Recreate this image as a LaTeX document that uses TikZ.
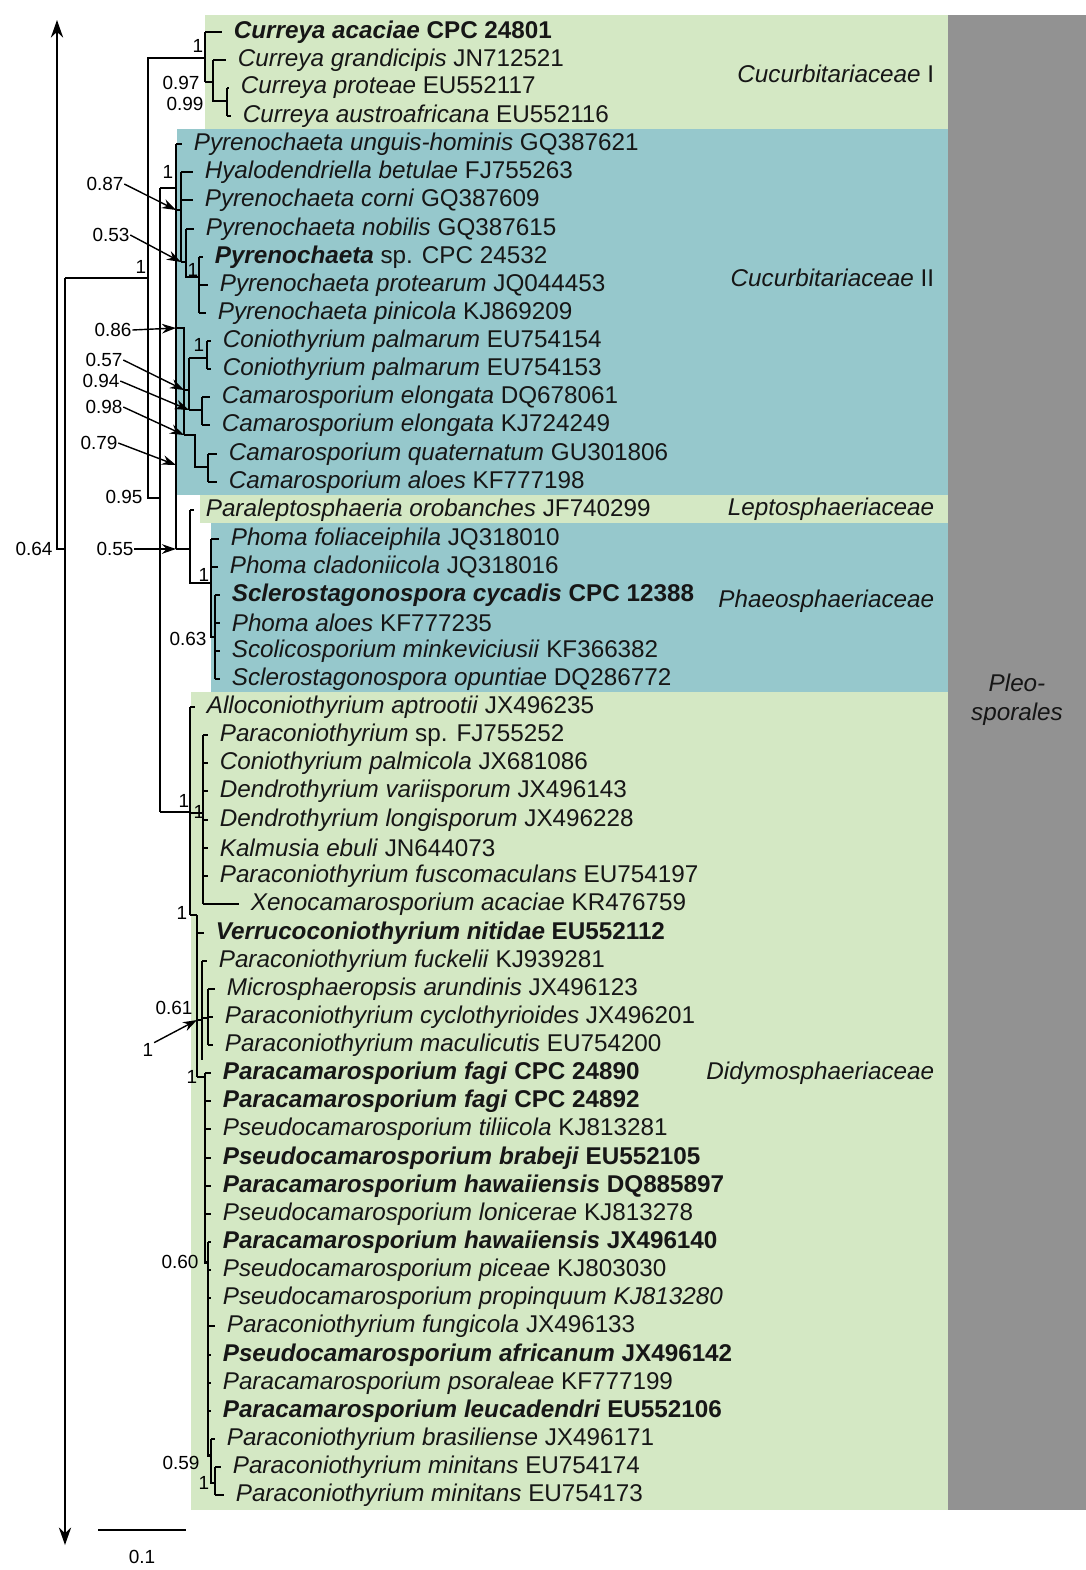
\documentclass[tikz,border=0pt]{standalone}
\usepackage{fontspec}
\setmainfont{Liberation Sans}
\usetikzlibrary{arrows.meta}

\definecolor{cladegreen}{RGB}{212,232,196}
\definecolor{cladeteal}{RGB}{150,200,204}
\definecolor{ordergrey}{RGB}{146,146,146}
\definecolor{inktext}{RGB}{22,22,22}

\newcommand{\tipsize}{\fontsize{13.8}{15.5}\selectfont}
\newcommand{\supsize}{\fontsize{10.8}{12.5}\selectfont}
\newcommand{\taxon}[2]{\textit{#1} #2}
\newcommand{\taxonb}[2]{\textbf{\textit{#1} #2}}

\begin{document}
\begin{tikzpicture}[
  x=0.02cm, y=-0.02cm,
  line width=0.95pt,
  tip/.style={anchor=west, inner sep=0pt, font=\tipsize, text=inktext},
  twig/.style={shorten >=6pt},
  heavy/.style={line width=1.7pt},
  supp/.style={font=\supsize, inner sep=0pt},
  callout/.style={-{Stealth[length=8pt,width=5.5pt]}, line width=0.8pt},
  cladename/.style={anchor=east, inner sep=0pt, font=\tipsize\itshape, text=inktext}
  ]
\useasboundingbox (0,0) rectangle (1086,1570);

% clade shading
\fill[cladegreen] (205,15) rectangle (948,129);
\fill[cladeteal] (177,129) rectangle (948,495);
\fill[cladegreen] (200,495) rectangle (948,523);
\fill[cladeteal] (211,523) rectangle (948,692);
\fill[cladegreen] (191,692) rectangle (948,1510);
\fill[ordergrey] (948,15) rectangle (1086,1510);

% clade names
\node[cladename] (cucI) at (935,74) {Cucurbitariaceae \upshape I};
\node[cladename] (cucII) at (935,278) {Cucurbitariaceae \upshape II};
\node[cladename] (lepto) at (935,509) {Leptosphaeriaceae};
\node[cladename] (phaeo) at (935,601) {Phaeosphaeriaceae};
\node[cladename] (didymo) at (935,1073) {Didymosphaeriaceae};
\node[font=\tipsize\itshape, text=inktext, align=center] (pleo) at (1017,700) {Pleo-\\[1pt]sporales};

% tips
\node[tip] (cacaciae) at (233,32) {\taxonb{Curreya acaciae}{CPC 24801}};
\node[tip] (cgrandi) at (237,60) {\taxon{Curreya grandicipis}{JN712521}};
\node[tip] (cproteae) at (240,88) {\taxon{Curreya proteae}{EU552117}};
\node[tip] (caustro) at (242,116) {\taxon{Curreya austroafricana}{EU552116}};
\node[tip] (punguis) at (193,144) {\taxon{Pyrenochaeta unguis-hominis}{GQ387621}};
\node[tip] (hbetulae) at (204,172) {\taxon{Hyalodendriella betulae}{FJ755263}};
\node[tip] (pcorni) at (204,200) {\taxon{Pyrenochaeta corni}{GQ387609}};
\node[tip] (pnobilis) at (205,229) {\taxon{Pyrenochaeta nobilis}{GQ387615}};
\node[tip] (psp) at (214,257) {\textbf{\textit{Pyrenochaeta}} sp. CPC 24532};
\node[tip] (pprot) at (219,285) {\taxon{Pyrenochaeta protearum}{JQ044453}};
\node[tip] (ppini) at (217,313) {\taxon{Pyrenochaeta pinicola}{KJ869209}};
\node[tip] (cpalmA) at (222,341) {\taxon{Coniothyrium palmarum}{EU754154}};
\node[tip] (cpalmB) at (222,369) {\taxon{Coniothyrium palmarum}{EU754153}};
\node[tip] (celonA) at (221,397) {\taxon{Camarosporium elongata}{DQ678061}};
\node[tip] (celonB) at (221,425) {\taxon{Camarosporium elongata}{KJ724249}};
\node[tip] (cquat) at (228,454) {\taxon{Camarosporium quaternatum}{GU301806}};
\node[tip] (caloes) at (228,482) {\taxon{Camarosporium aloes}{KF777198}};
\node[tip] (porob) at (205,510) {\taxon{Paraleptosphaeria orobanches}{JF740299}};
\node[tip] (pfolia) at (230,539) {\taxon{Phoma foliaceiphila}{JQ318010}};
\node[tip] (pclado) at (229,567) {\taxon{Phoma cladoniicola}{JQ318016}};
\node[tip] (scycad) at (231,595) {\taxonb{Sclerostagonospora cycadis}{CPC 12388}};
\node[tip] (paloes) at (231,623) {\taxon{Phoma aloes}{KF777235}};
\node[tip] (sminke) at (231,651) {\taxon{Scolicosporium minkeviciusii}{KF366382}};
\node[tip] (sopunt) at (231,679) {\taxon{Sclerostagonospora opuntiae}{DQ286772}};
\node[tip] (aaptro) at (206,707) {\taxon{Alloconiothyrium aptrootii}{JX496235}};
\node[tip] (pconsp) at (219,735) {\textit{Paraconiothyrium} sp. FJ755252};
\node[tip] (cpalmi) at (219,763) {\taxon{Coniothyrium palmicola}{JX681086}};
\node[tip] (dvarii) at (219,791) {\taxon{Dendrothyrium variisporum}{JX496143}};
\node[tip] (dlongi) at (219,820) {\taxon{Dendrothyrium longisporum}{JX496228}};
\node[tip] (kebuli) at (219,848) {\taxon{Kalmusia ebuli}{JN644073}};
\node[tip] (pfusco) at (219,876) {\taxon{Paraconiothyrium fuscomaculans}{EU754197}};
\node[tip] (xacac) at (250,904) {\taxon{Xenocamarosporium acaciae}{KR476759}};
\node[tip] (vnitid) at (215,933) {\taxonb{Verrucoconiothyrium nitidae}{EU552112}};
\node[tip] (pfuck) at (218,961) {\taxon{Paraconiothyrium fuckelii}{KJ939281}};
\node[tip] (marund) at (226,989) {\taxon{Microsphaeropsis arundinis}{JX496123}};
\node[tip] (pcyclo) at (224,1017) {\taxon{Paraconiothyrium cyclothyrioides}{JX496201}};
\node[tip] (pmacul) at (224,1045) {\taxon{Paraconiothyrium maculicutis}{EU754200}};
\node[tip] (pfagiA) at (222,1073) {\taxonb{Paracamarosporium fagi}{CPC 24890}};
\node[tip] (pfagiB) at (222,1101) {\taxonb{Paracamarosporium fagi}{CPC 24892}};
\node[tip] (ptilii) at (222,1129) {\taxon{Pseudocamarosporium tiliicola}{KJ813281}};
\node[tip] (pbrabe) at (222,1158) {\taxonb{Pseudocamarosporium brabeji}{EU552105}};
\node[tip] (phawaA) at (222,1186) {\taxonb{Paracamarosporium hawaiiensis}{DQ885897}};
\node[tip] (plonic) at (222,1214) {\taxon{Pseudocamarosporium lonicerae}{KJ813278}};
\node[tip] (phawaB) at (222,1242) {\taxonb{Paracamarosporium hawaiiensis}{JX496140}};
\node[tip] (ppicea) at (222,1270) {\taxon{Pseudocamarosporium piceae}{KJ803030}};
\node[tip] (ppropi) at (222,1298) {\textit{Pseudocamarosporium propinquum KJ813280}};
\node[tip] (pfungi) at (226,1326) {\taxon{Paraconiothyrium fungicola}{JX496133}};
\node[tip] (pafric) at (222,1355) {\taxonb{Pseudocamarosporium africanum}{JX496142}};
\node[tip] (psoral) at (222,1383) {\taxon{Paracamarosporium psoraleae}{KF777199}};
\node[tip] (pleuca) at (222,1411) {\taxonb{Paracamarosporium leucadendri}{EU552106}};
\node[tip] (pbrasi) at (226,1439) {\taxon{Paraconiothyrium brasiliense}{JX496171}};
\node[tip] (pminiA) at (232,1467) {\taxon{Paraconiothyrium minitans}{EU754174}};
\node[tip] (pminiB) at (235,1495) {\taxon{Paraconiothyrium minitans}{EU754173}};

% root and long branch
\coordinate (rtop) at (57,20);
\coordinate (rbend) at (57,549);
\coordinate (root) at (65,549);
\coordinate (rbot) at (65,1545);
\draw[{Stealth[length=10pt,width=7pt]}-] (rtop) -- (rbend) -- (root);
\draw[-{Stealth[length=10pt,width=7pt]}] (65,278) -- (rbot);
\draw (65,278) -- (148,278);

% Cucurbitariaceae I
\draw (205,58) -- (148,58) -- (148,498) -- (160,498);
\draw (205,82) -- (205,32);
\draw[twig] (205,32) -- (cacaciae.west);
\draw (205,82) -- (213,82);
\draw (213,60) -- (213,101) -- (227,101);
\draw[twig] (213,60) -- (cgrandi.west);
\draw (227,88) -- (227,116);
\draw[twig] (227,88) -- (cproteae.west);
\draw[twig] (227,116) -- (caustro.west);

% Cucurbitariaceae II
\draw (160,188) -- (160,812);
\draw (160,188) -- (176,188);
\draw (176,144) -- (176,549);
\draw[twig] (176,144) -- (punguis.west);
\coordinate (j087) at (176,210);
\draw (j087) -- (181,210);
\draw[heavy] (181,172) -- (181,262);
\draw[twig] (181,172) -- (hbetulae.west);
\draw[twig] (181,200) -- (pcorni.west);
\coordinate (j053) at (181,262);
\draw (j053) -- (186,262);
\draw (186,229) -- (186,277) -- (199,277);
\draw[twig] (186,229) -- (pnobilis.west);
\draw (199,257) -- (199,313);
\draw[twig] (199,257) -- (psp.west);
\draw[twig] (199,285) -- (pprot.west);
\draw[twig] (199,313) -- (ppini.west);
\coordinate (j086) at (176,328);
\draw (j086) -- (184,328) -- (184,435);
\coordinate (j057) at (184,390);
\draw (j057) -- (189,390);
\draw (189,358) -- (189,410);
\draw (189,358) -- (207,358);
\draw (207,341) -- (207,369);
\draw[twig] (207,341) -- (cpalmA.west);
\draw[twig] (207,369) -- (cpalmB.west);
\coordinate (j094) at (189,410);
\draw (j094) -- (202,410);
\draw (202,397) -- (202,425);
\draw[twig] (202,397) -- (celonA.west);
\draw[twig] (202,425) -- (celonB.west);
\coordinate (j098) at (184,435);
\draw (j098) -- (195,435) -- (195,467) -- (208,467);
\draw (208,454) -- (208,482);
\draw[twig] (208,454) -- (cquat.west);
\draw[twig] (208,482) -- (caloes.west);
\coordinate (j079) at (176,465);

% Leptosphaeriaceae + Phaeosphaeriaceae
\coordinate (j055) at (176,549);
\draw (j055) -- (190,549);
\draw (190,510) -- (190,583) -- (211,583);
\draw[twig] (190,510) -- (porob.west);
\draw (211,539) -- (211,637) -- (215,637);
\draw[twig] (211,539) -- (pfolia.west);
\draw[twig] (211,567) -- (pclado.west);
\draw[heavy] (215,595) -- (215,679);
\draw[twig] (215,595) -- (scycad.west);
\draw[twig] (215,623) -- (paloes.west);
\draw[twig] (215,651) -- (sminke.west);
\draw[twig] (215,679) -- (sopunt.west);

% Didymosphaeriaceae
\draw (160,812) -- (190,812);
\draw[heavy] (190,707) -- (190,915);
\draw[twig] (190,707) -- (aaptro.west);
\draw (190,813) -- (203,813);
\draw (203,735) -- (203,904);
\draw[twig] (203,735) -- (pconsp.west);
\draw[twig] (203,763) -- (cpalmi.west);
\draw[twig] (203,791) -- (dvarii.west);
\draw[twig] (203,820) -- (dlongi.west);
\draw[twig] (203,848) -- (kebuli.west);
\draw[twig] (203,876) -- (pfusco.west);
\draw[twig] (203,904) -- (xacac.west);
\draw (190,915) -- (197,915);
\draw[heavy] (197,915) -- (197,1077);
\draw[twig] (197,933) -- (vnitid.west);
\coordinate (jone) at (197,1020);
\draw (jone) -- (202,1020);
\draw (202,961) -- (202,1060);
\draw[twig] (202,961) -- (pfuck.west);
\draw (202,1018) -- (208,1018);
\draw (208,989) -- (208,1045);
\draw[twig] (208,989) -- (marund.west);
\draw[twig] (208,1017) -- (pcyclo.west);
\draw[twig] (208,1045) -- (pmacul.west);
\draw (197,1077) -- (205,1077);
\draw[heavy] (205,1073) -- (205,1262) -- (208,1262);
\draw[twig] (205,1073) -- (pfagiA.west);
\draw[twig] (205,1101) -- (pfagiB.west);
\draw[twig] (205,1129) -- (ptilii.west);
\draw[twig] (205,1158) -- (pbrabe.west);
\draw[twig] (205,1186) -- (phawaA.west);
\draw[twig] (205,1214) -- (plonic.west);
\draw[heavy] (208,1242) -- (208,1455) -- (211,1455);
\draw[twig] (208,1242) -- (phawaB.west);
\draw[twig] (208,1270) -- (ppicea.west);
\draw[twig] (208,1298) -- (ppropi.west);
\draw[twig] (208,1326) -- (pfungi.west);
\draw[twig] (208,1355) -- (pafric.west);
\draw[twig] (208,1383) -- (psoral.west);
\draw[twig] (208,1411) -- (pleuca.west);
\draw (211,1439) -- (211,1483) -- (215,1483);
\draw[twig] (211,1439) -- (pbrasi.west);
\draw (215,1467) -- (215,1495);
\draw[twig] (215,1467) -- (pminiA.west);
\draw[twig] (215,1495) -- (pminiB.west);

% support values
\node[supp] (s1) at (198,46) {1};
\node[supp] (s2) at (181,83) {0.97};
\node[supp] (s3) at (185,104) {0.99};
\node[supp] (s4) at (141,267) {1};
\node[supp] (s5) at (124,497) {0.95};
\node[supp] (s6) at (34,549) {0.64};
\node[supp] (s7) at (168,172) {1};
\node[supp] (s8) at (105,184) {0.87};
\node[supp] (s9) at (111,235) {0.53};
\node[supp] (s10) at (193,270) {1};
\node[supp] (s11) at (113,330) {0.86};
\node[supp] (s12) at (199,345) {1};
\node[supp] (s13) at (104,360) {0.57};
\node[supp] (s14) at (101,381) {0.94};
\node[supp] (s15) at (104,407) {0.98};
\node[supp] (s16) at (99,443) {0.79};
\node[supp] (s17) at (115,549) {0.55};
\node[supp] (s18) at (204,575) {1};
\node[supp] (s19) at (188,639) {0.63};
\node[supp] (s20) at (184,801) {1};
\node[supp] (s21) at (199,812) {1};
\node[supp] (s22) at (182,913) {1};
\node[supp] (s23) at (174,1008) {0.61};
\node[supp] (s24) at (148,1050) {1};
\node[supp] (s25) at (192,1077) {1};
\node[supp] (s26) at (180,1262) {0.60};
\node[supp] (s27) at (181,1463) {0.59};
\node[supp] (s28) at (204,1483) {1};

\draw[callout] (s8.east) -- (j087);
\draw[callout] (s9.east) -- (j053);
\draw[callout] (s11.east) -- (j086);
\draw[callout] (s13.east) -- (j057);
\draw[callout] (s14.east) -- (j094);
\draw[callout] (s15.east) -- (j098);
\draw[callout] (s16.east) -- (j079);
\draw[callout] (s17.east) -- (j055);
\draw[callout] (s24.north east) -- (jone);

% scale bar
\coordinate (barL) at (98,1530);
\coordinate (barR) at (186,1530);
\draw (barL) -- (barR);
\node[supp] (barlabel) at (142,1557) {0.1};
\end{tikzpicture}
\end{document}
